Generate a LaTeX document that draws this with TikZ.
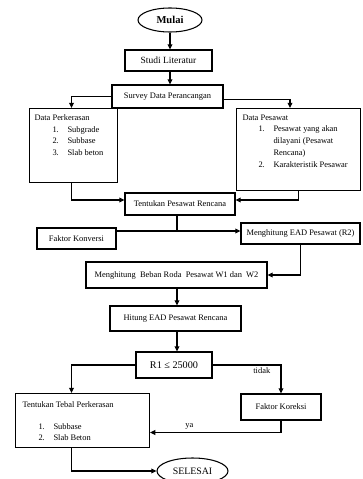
\documentclass[tikz,border=0pt]{standalone}
\usepackage{fontspec}
\setmainfont{Liberation Serif}
\usetikzlibrary{positioning, calc, arrows.meta, shapes.geometric}

\newcommand{\butir}[3][0.8cm]{\hspace*{#1}\makebox[0.75cm][l]{#2}#3}

\begin{document}
\begin{tikzpicture}[x=0.05cm, y=-0.05cm, >={Triangle[length=2.6mm, width=2.4mm]},
    font=\fontsize{12}{14}\selectfont, line width=1.5pt,
    box/.style={draw, inner sep=0pt, align=center},
    oval/.style={draw, ellipse, inner sep=0pt},
    listbox/.style={draw, anchor=north west, align=left, font=\fontsize{12}{16.8}\selectfont}]

  \useasboundingbox (0,0) rectangle (362,479);

  \node[oval, minimum width=3.2cm, minimum height=1.2cm, font=\fontsize{15}{17}\selectfont\bfseries] (mulai) at (170,20) {Mulai};

  \node[box, minimum width=4.35cm, minimum height=1.05cm, font=\fontsize{13.5}{15}\selectfont] (studi) at (168.5,60.5) {Studi Literatur};

  \node[box, minimum width=5.55cm, minimum height=1.15cm] (survey) at (167.5,96.5) {Survey Data Perancangan};

  \node[listbox, inner xsep=0.25cm, inner ysep=0.3cm] (perk) at (29,108)
    {\begin{minipage}[t][3.1cm][t]{3.9cm}
      Data Perkerasan\\
      \butir[0.9cm]{1.}{Subgrade}\\
      \butir[0.9cm]{2.}{Subbase}\\
      \butir[0.9cm]{3.}{Slab beton}
    \end{minipage}};

  \node[listbox, inner xsep=0.3cm, inner ysep=0.3cm] (pesawat) at (236,108)
    {\begin{minipage}[t][3.5cm][t]{5.6cm}
      Data Pesawat\\
      \butir{1.}{Pesawat yang akan}\\
      \hspace*{1.55cm}dilayani (Pesawat\\
      \hspace*{1.55cm}Rencana)\\
      \butir{2.}{Karakteristik Pesawar}
    \end{minipage}};

  \node[box, minimum width=5.5cm, minimum height=1.1cm] (tentukan) at (180,204) {Tentukan Pesawat Rencana};

  \node[box, minimum width=3.95cm, minimum height=1.05cm] (faktor) at (76.5,238.5) {Faktor Konversi};

  \node[box, minimum width=5.95cm, minimum height=1.05cm] (ead) at (300.5,233.5) {Menghitung EAD Pesawat (R2)};

  \node[box, minimum width=9.05cm, minimum height=1.3cm] (beban) at (176.5,275) {Menghitung\ \ Beban Roda\ \ Pesawat W1 dan\ \ W2};

  \node[box, minimum width=6.55cm, minimum height=1.25cm] (hitung) at (175.5,318.5) {Hitung EAD Pesawat Rencana};

  \node[box, minimum width=3.8cm, minimum height=1.3cm, font=\fontsize{14.5}{16}\selectfont] (r1) at (174,365) {R1 ≤ 25000};

  \node[listbox, inner xsep=0.35cm, inner ysep=0.4cm, font=\fontsize{12}{15.6}\selectfont] (tebal) at (15,393)
    {\begin{minipage}[t][1.9cm][t]{6cm}
      Tentukan Tebal Perkerasan\\[15.6pt]
      \butir{1.}{Subbase}\\
      \butir{2.}{Slab Beton}
    \end{minipage}};

  \node[box, minimum width=4cm, minimum height=1.3cm] (koreksi) at (281,407) {Faktor Koreksi};

  \node[oval, minimum width=3.55cm, minimum height=1.3cm, font=\fontsize{14}{16}\selectfont] (selesai) at (192.5,471) {SELESAI};

  \coordinate (kiri) at (71.5,0);
  \coordinate (kanan) at (290,0);
  \coordinate (jk) at (177,231);

  \draw[->] (mulai.south) -- (mulai.south |- studi.north);
  \draw[->] (studi.south -| mulai) -- (survey.north -| mulai);
  \draw[->] (survey.west) -| (perk.north -| kiri);
  \draw[->] ([yshift=-0.17cm]survey.east) -| (pesawat.north -| kanan);
  \draw[->] (perk.south -| kiri) |- ([yshift=0.2cm]tentukan.west);
  \draw[->] (pesawat.south) |- ([yshift=0.2cm]tentukan.east);
  \draw (tentukan.south -| jk) -- (jk);
  \draw (faktor.east |- jk) -- (jk);
  \draw[->] (jk) -- (ead.west |- jk);
  \draw[->] (ead.south) |- (beban.east);
  \draw[->] (beban.south -| jk) -- (hitung.north -| jk);
  \draw[->] (hitung.south -| jk) -- (r1.north -| jk);
  \draw[->] (r1.west) -| (tebal.north -| kiri);
  \draw[->] (r1.east) -| node[pos=0.36, below=0pt] (tidak) {tidak} (koreksi.north);
  \draw[->] (koreksi.south) |- node[pos=0.85, above=0pt] (ya) {ya} ([yshift=-0.6cm]tebal.east);
  \draw[->] (tebal.south -| kiri) |- (selesai.west);

\end{tikzpicture}
\end{document}
